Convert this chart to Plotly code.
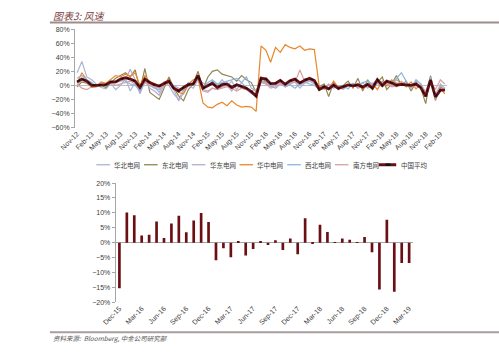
import plotly.graph_objects as go
import pandas as pd

W, H = 499, 353

# ---------------- data ----------------
months = pd.date_range("2012-11-01", periods=77, freq="MS")
month_labels = [d.strftime("%b-%y") for d in months]

series_names = ["华北电网", "东北电网", "华东电网", "华中电网", "西北电网", "南方电网", "中国平均"]

huabei = [18, 34, 12, 8, 2, -3, -5, 3, -6, 0, 10, -8, 4, -10, 6, 2, -2, -10, 5, 0,
          -12, -20, -6, 2, 0, 9, 3, -2, 6, 0, 8, -1, 6, -6, 4, -3, -10,
          -12, 8, 4, 0, 2, 4, -2, 1, 5, -4, 3, 6, 2, -3, -6, 1, -4, -2, -6, 0,
          2, -3, 4, -4, 2, 3, 0, 5, 2, 8, 3, -2, 0, 6, -4, -12, 10, -22, 2, -4]
dongbei = [-2, 5, 3, -2, 0, 0, -3, 4, 10, 14, 18, 12, 22, -6, 24, -10, -15, -20, -4, 12,
           -3, -15, -22, -6, 2, 20, -5, 12, 20, 22, 16, 14, 12, 6, 14, 8, 4,
           -10, 12, 5, 3, 4, 8, 2, 6, 8, 2, 9, 10, 8, -2, 2, -16, 4, -6, 0, 6,
           -4, 10, -8, 8, -6, 4, 12, -6, 2, 14, 0, 6, -8, 4, -4, -26, 14, -20, -2, -6]
huadong = [0, 8, 5, -3, -2, 2, -1, 6, 4, 6, 8, 23, 8, -12, 6, -4, -8, -14, 0, 5,
           -6, -22, -10, 0, -4, 8, -8, -10, -4, -6, -2, 0, -8, 2, -4, -6, -12,
           -14, 6, 4, -2, 0, 4, -2, 3, 6, 0, 4, 8, 4, -4, -2, -6, -2, -4, -3, 0,
           -2, 2, -3, 0, -4, 3, -2, 2, 0, -2, 4, 0, -1, 2, -4, -10, 6, -12, 0, -8]
huazhong = [3, 18, 8, -3, -2, 5, 3, 8, 14, 12, 16, 13, 18, 0, 14, 5, 3, -2, 4, 8,
            -2, -10, -12, 2, 8, 10,
            -25, -31, -32, -27, -24, -29, -22, -28, -31, -30, -31, -37,
            56, 50, 33, 54, 47, 58, 54, 52, 56, 50, 52, 51,
            -2, -4, -6, 6, -3, -4, 1, -2, 2, -5, 0, 3, -6, 6, -1, 8, 3, 4, -2, 5,
            -5, 2, -14, 12, -20, -4, -12]
xibei = [10, 14, 8, 4, -2, 2, 0, 3, 4, 8, 6, 2, 0, -8, 4, 0, -4, -6, 2, 4,
         0, -4, -8, 4, 2, 10, -2, 4, 8, 2, 4, 6, 8, 10, 4, 12, -4,
         -8, 6, 2, 0, -4, 2, -2, 1, -4, 2, 5, 2, 0, -6, -4, 2, -3, -1, 0, -5,
         3, 0, 4, 6, 2, 8, 4, 6, 2, 10, 18, 6, -4, 8, 2, -10, 12, -18, -8, -4]
nanfang = [2, -4, -6, -2, 0, 0, 2, 4, 0, 2, 4, 6, 2, -4, 4, 0, -2, -4, 0, 6,
           -2, -6, -4, 0, 4, 8, -6, -8, -4, -6, -4, -2, -4, -8, -4, -6, -8,
           -6, 4, 2, -4, -2, 2, 0, 6, 4, 22, 6, 8, 4, -4, -2, 0, 2, -4, -2, 0,
           2, -4, -1, 2, -4, 6, 0, 4, -2, -1, 6, 2, -3, 0, -2, -8, 6, -6, 8, 2]

avg_early = [5, 9, 6, 0, 0, 1, 1, 5, 5, 9, 11, 9, 6, -3, 9, 4, 1, -1, 2, 6,
             -4, -8, -3, 1, 2, 14, -4, 0, 3, -3, 1, 2, -3, 1, -1, -4, -9]
# Dec-15 .. Mar-19 (bar chart values, also the tail of the national average)
bar_values = [-15.3, 10.1, 9.2, 2.4, 2.7, 7.1, 1.6, 6.4, 9.0, 3.5,
              7.4, 10.0, 6.9, -5.9, -1.9, -4.9, 0.5, -4.3, -2.1, 0.6,
              -0.8, 0.8, -2.5, 1.4, -3.9, 8.2, -0.2, 6.0, 3.6, 0.2,
              1.4, 1.0, 0.1, 1.9, -3.2, -15.7, 7.7, -16.5, -6.8, -6.8]
china_avg = avg_early + bar_values
bar_labels = month_labels[37:]

colors = ["#A9B7D0", "#8F8653", "#B9A9CF", "#E7882C", "#8DB4E2", "#D9A0A0", "#6B0F14"]
lines = [huabei, dongbei, huadong, huazhong, xibei, nanfang]

# ---------------- figure ----------------
fig = go.Figure()

for name, vals, col in zip(series_names[:6], lines, colors[:6]):
    fig.add_trace(go.Scatter(x=months, y=vals, mode="lines", name=name,
                             line=dict(color=col, width=1.2),
                             xaxis="x", yaxis="y", showlegend=False))

fig.add_trace(go.Scatter(x=months, y=china_avg, mode="lines", name="中国平均",
                         line=dict(color=colors[6], width=2.8),
                         xaxis="x", yaxis="y", showlegend=False))
fig.add_trace(go.Scatter(x=months, y=china_avg, mode="lines", name="中国平均",
                         line=dict(color="#111111", width=1.2, dash="3px,3px"),
                         xaxis="x", yaxis="y", showlegend=False, hoverinfo="skip"))

fig.add_trace(go.Bar(x=bar_labels, y=bar_values, marker=dict(color="#6B0F14", line=dict(width=0)),
                     xaxis="x2", yaxis="y2", showlegend=False))

def px_x(p):
    return p / W

def px_y(p):
    return 1 - p / H

tickfont = dict(family="Liberation Sans, Arial", size=7, color="#404040")

fig.update_layout(
    width=W, height=H,
    margin=dict(l=0, r=0, t=0, b=0),
    paper_bgcolor="white", plot_bgcolor="white",
    bargap=0.64,
    xaxis=dict(domain=[px_x(61), px_x(445)], type="date",
               range=["2012-10-19", "2019-03-13"],
               tick0="2012-11-01", dtick="M3", tickformat="%b-%y",
               tickangle=-45, tickfont=tickfont, showgrid=False,
               showline=False, ticks="", anchor="y"),
    yaxis=dict(domain=[px_y(126), px_y(25.7)], range=[-60, 80], dtick=20,
               ticksuffix="%", tickfont=tickfont, showgrid=False,
               showline=True, linecolor="#A6A6A6", linewidth=1,
               ticks="outside", ticklen=3, tickcolor="#A6A6A6",
               zeroline=True, zerolinecolor="#BFBFBF", zerolinewidth=1, anchor="x"),
    xaxis2=dict(domain=[px_x(103), px_x(410)], type="category",
                range=[-0.5, 39.5], tickvals=bar_labels[::3],
                tickangle=-45, tickfont=tickfont, showgrid=False,
                showline=False, ticks="", anchor="y2"),
    yaxis2=dict(domain=[px_y(304.3), px_y(182.7)], range=[-20, 20], dtick=5,
                ticksuffix="%", tickfont=tickfont, showgrid=False,
                showline=True, linecolor="#A6A6A6", linewidth=1,
                ticks="outside", ticklen=3, tickcolor="#A6A6A6",
                zeroline=True, zerolinecolor="#A6A6A6", zerolinewidth=1, anchor="x2"),
)

shapes = [
    dict(type="line", xref="paper", yref="paper", x0=px_x(35), x1=1, y0=px_y(19), y1=px_y(19),
         line=dict(color="#9E8C8C", width=2)),
    dict(type="line", xref="paper", yref="paper", x0=px_x(35), x1=1, y0=px_y(335), y1=px_y(335),
         line=dict(color="#A89E9E", width=2)),
]
annotations = [
    dict(text="<i>图表3: 风速</i>", xref="paper", yref="paper", x=px_x(36), y=px_y(12),
         xanchor="left", yanchor="middle", showarrow=False,
         font=dict(family="Noto Sans CJK SC", size=10, color="#7B3F3F")),
    dict(text="<i>资料来源:  Bloomberg, 中金公司研究部</i>", xref="paper", yref="paper",
         x=px_x(36), y=px_y(341), xanchor="left", yanchor="middle", showarrow=False,
         font=dict(family="Noto Sans CJK SC", size=6.5, color="#555555")),
]

# legend (drawn manually to match the compact spacing)
leg_y = px_y(164)
for i, (name, col) in enumerate(zip(series_names, colors)):
    x0 = 83 + 49.3 * i
    if name == "中国平均":
        shapes.append(dict(type="line", xref="paper", yref="paper", x0=px_x(x0 - 4), x1=px_x(x0 + 14),
                           y0=leg_y, y1=leg_y, line=dict(color=col, width=3)))
        shapes.append(dict(type="line", xref="paper", yref="paper", x0=px_x(x0 + 3), x1=px_x(x0 + 8),
                           y0=leg_y, y1=leg_y, line=dict(color="#111111", width=2.5)))
    else:
        shapes.append(dict(type="line", xref="paper", yref="paper", x0=px_x(x0), x1=px_x(x0 + 14),
                           y0=leg_y, y1=leg_y, line=dict(color=col, width=1.3)))
    annotations.append(dict(text=name, xref="paper", yref="paper", x=px_x(x0 + 16.5), y=leg_y,
                            xanchor="left", yanchor="middle", showarrow=False,
                            font=dict(family="Noto Sans CJK SC", size=6.5, color="#404040")))

fig.update_layout(shapes=shapes, annotations=annotations)

fig.write_html("out.html")
